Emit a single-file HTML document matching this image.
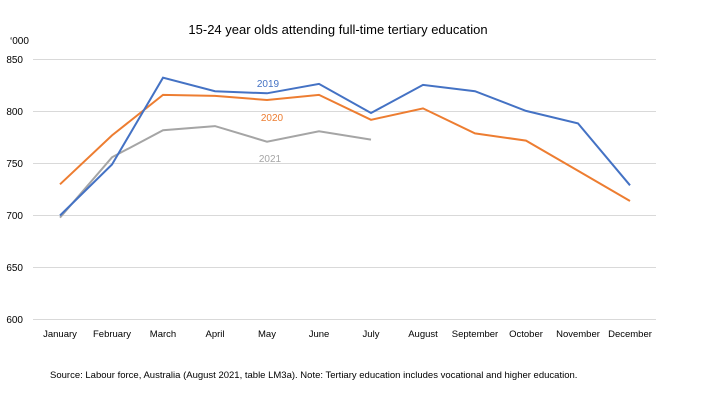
<!DOCTYPE html>
<html><head><meta charset="utf-8"><style>
body{margin:0;background:#fff;width:720px;height:405px;overflow:hidden}
text{font-family:"Liberation Sans",sans-serif}
</style></head><body>
<svg width="720" height="405" viewBox="0 0 720 405">
<text x="338" y="34" font-size="13" text-anchor="middle" fill="#000">15-24 year olds  attending full-time tertiary education</text>
<text x="10" y="44" font-size="10" fill="#000">‘000</text>
<g stroke="#d9d9d9" stroke-width="1">
<line x1="33" x2="656" y1="59.5" y2="59.5"/>
<line x1="33" x2="656" y1="111.5" y2="111.5"/>
<line x1="33" x2="656" y1="163.5" y2="163.5"/>
<line x1="33" x2="656" y1="215.5" y2="215.5"/>
<line x1="33" x2="656" y1="267.5" y2="267.5"/>
<line x1="33" x2="656" y1="319.5" y2="319.5"/>
</g>
<g font-size="10" fill="#000" text-anchor="end">
<text x="23" y="63">850</text><text x="23" y="115">800</text><text x="23" y="167">750</text>
<text x="23" y="219">700</text><text x="23" y="271">650</text><text x="23" y="323">600</text>
</g>
<g font-size="9.5" fill="#000" text-anchor="middle">
<text x="60" y="337">January</text><text x="112" y="337">February</text><text x="163" y="337">March</text>
<text x="215" y="337">April</text><text x="267" y="337">May</text><text x="319" y="337">June</text>
<text x="371" y="337">July</text><text x="423" y="337">August</text><text x="475" y="337">September</text>
<text x="526" y="337">October</text><text x="578" y="337">November</text><text x="630" y="337">December</text>
</g>
<polyline fill="none" stroke="#a5a5a5" stroke-width="2" points="60,217.6 112,157.3 163,130.2 215,126.1 267,141.7 319,131.3 371,139.6"/>
<polyline fill="none" stroke="#ed7d31" stroke-width="2" points="60,184.3 112,135.4 163,94.9 215,95.9 267,100.0 319,94.9 371,119.8 423,108.4 475,133.4 526,140.6 578,170.8 630,201"/>
<polyline fill="none" stroke="#4472c4" stroke-width="2" points="60,215.5 112,164.5 163,77.7 215,91.2 267,93.3 319,83.9 371,113.0 423,84.9 475,91.2 526,110.9 578,123.4 630,185.3"/>
<text x="268" y="87" font-size="10" fill="#4472c4" text-anchor="middle">2019</text>
<text x="272" y="121" font-size="10" fill="#ed7d31" text-anchor="middle">2020</text>
<text x="270" y="162" font-size="10" fill="#a5a5a5" text-anchor="middle">2021</text>
<text x="50" y="378" font-size="9.5" fill="#000">Source: Labour force, Australia (August 2021, table LM3a). Note: Tertiary education includes vocational and higher education.</text>
</svg>
</body></html>
